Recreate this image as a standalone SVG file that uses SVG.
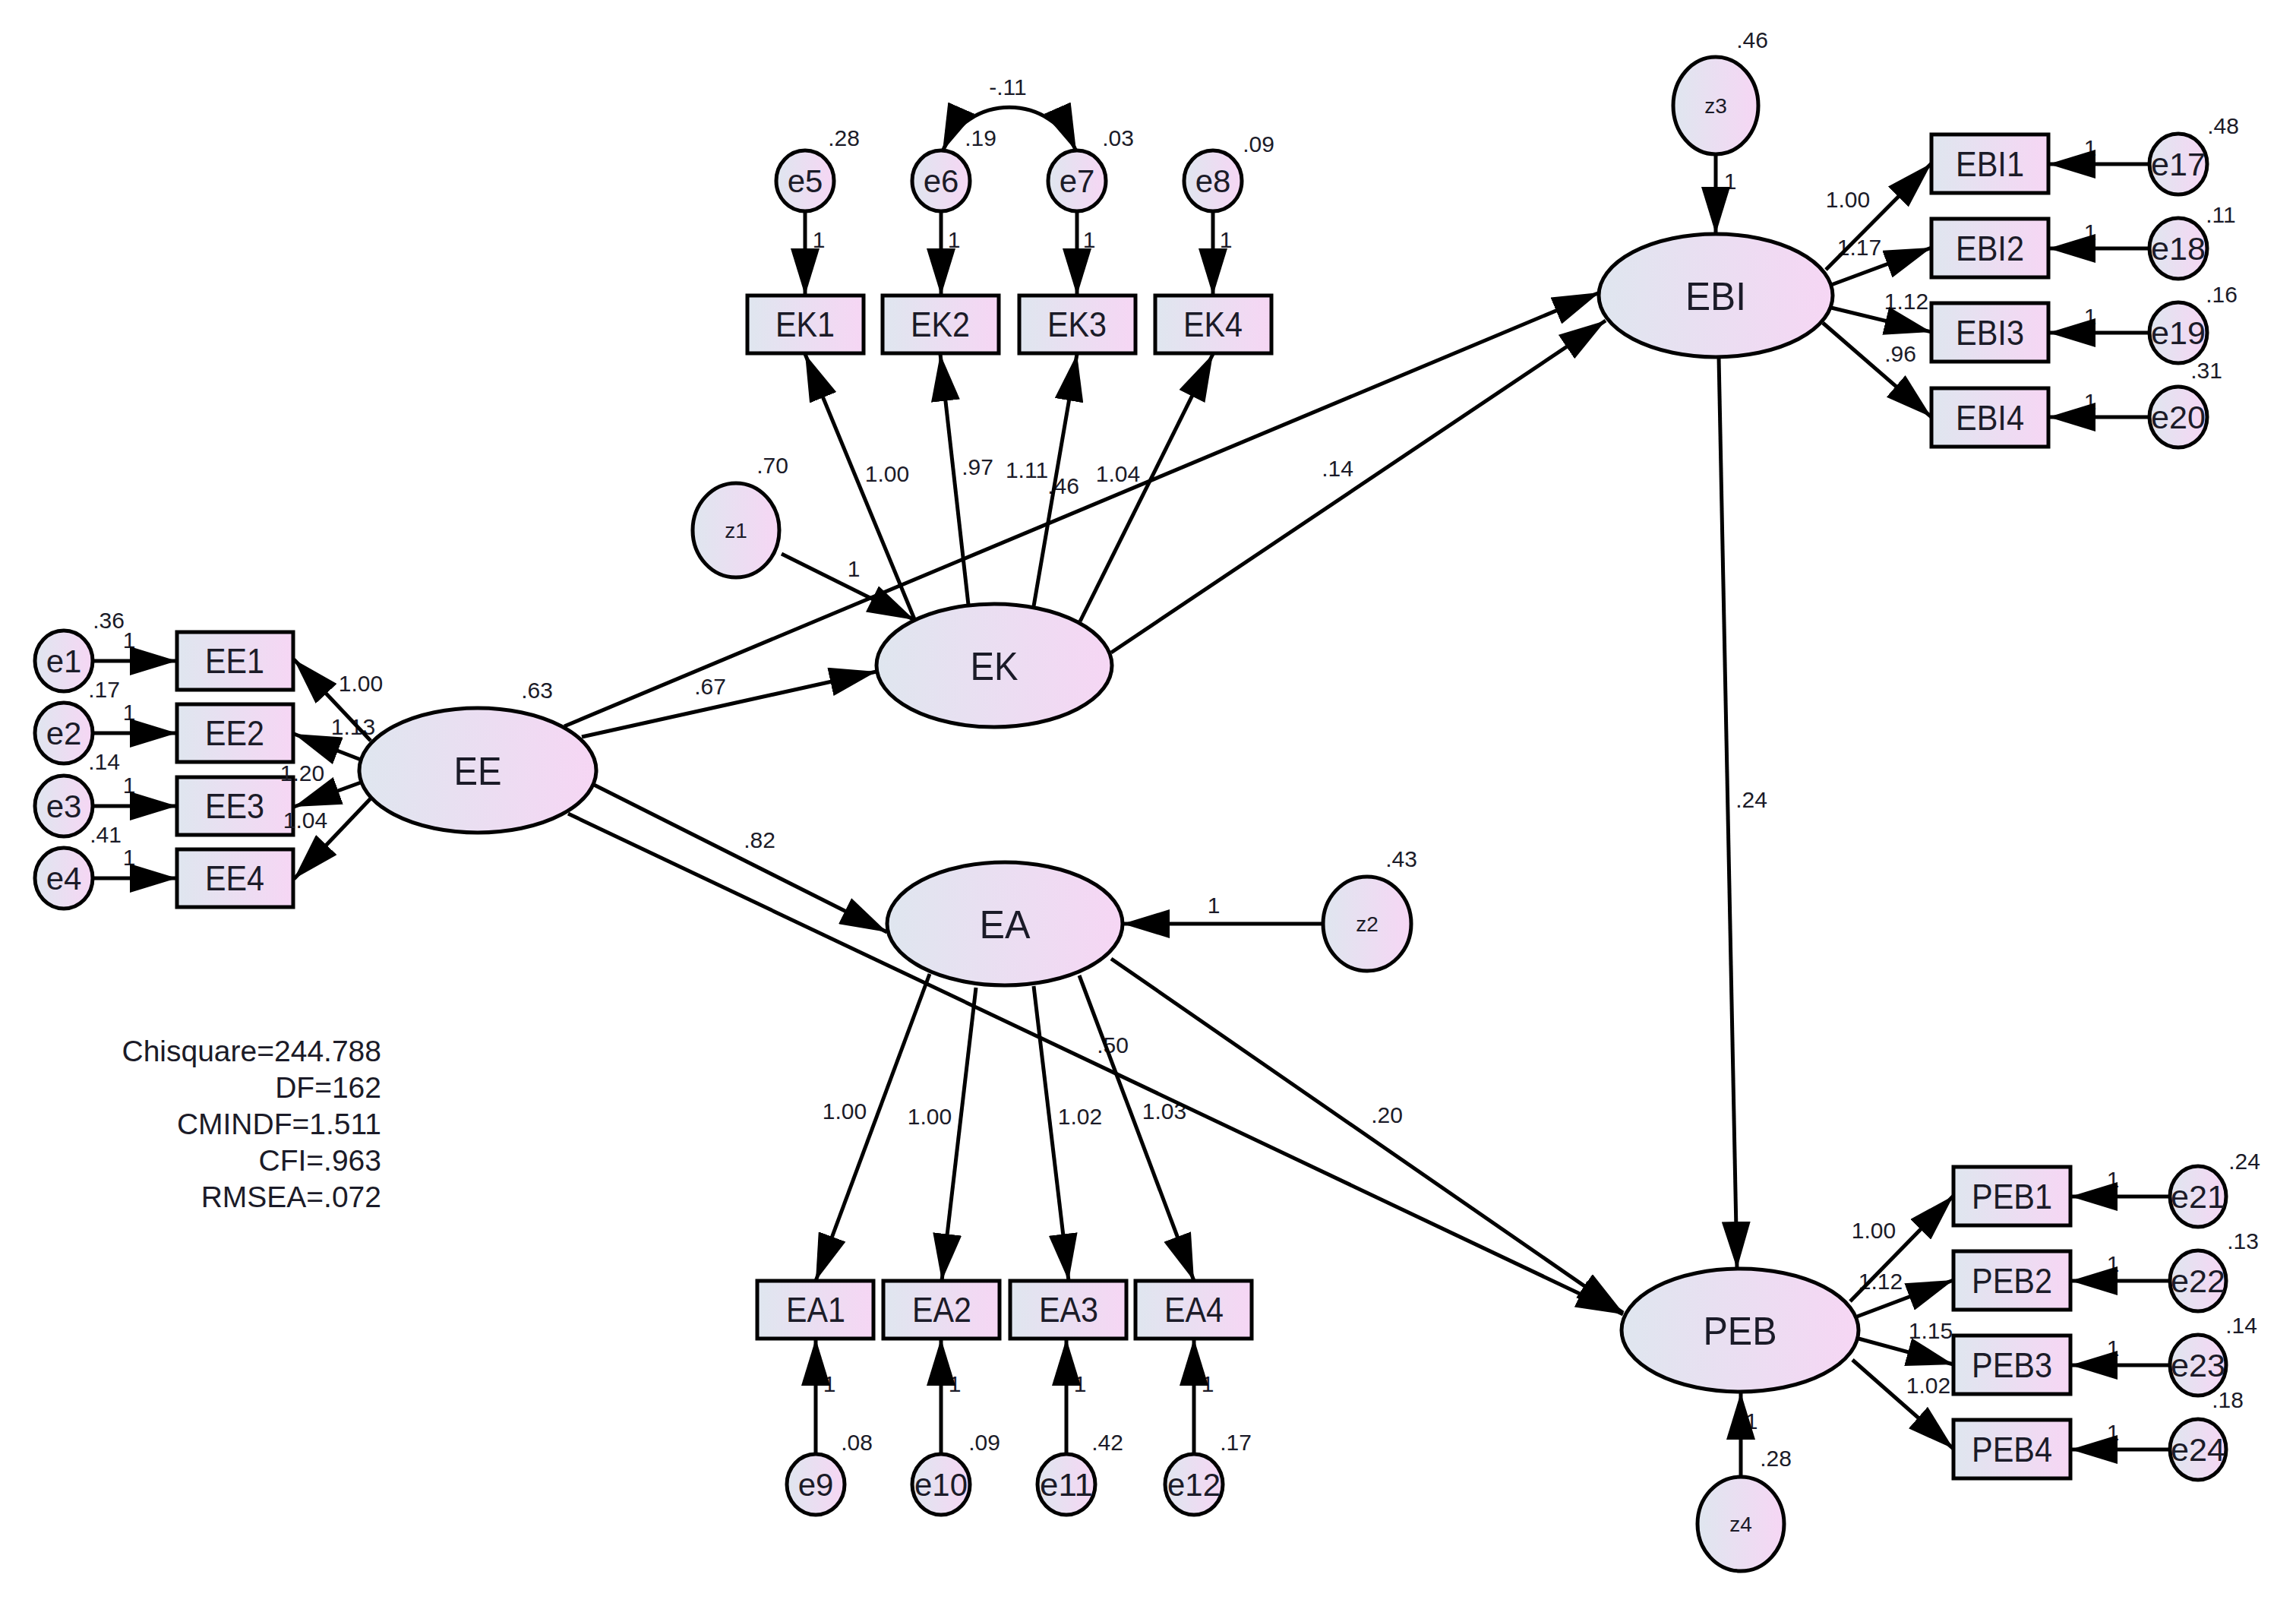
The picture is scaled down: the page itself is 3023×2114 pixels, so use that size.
<svg xmlns="http://www.w3.org/2000/svg" width="3023" height="2114" viewBox="0 0 3023 2114">
<defs>
<linearGradient id="g" x1="0" y1="0" x2="1" y2="0">
<stop offset="0" stop-color="#dfe6ef"/>
<stop offset="1" stop-color="#f6d6f4"/>
</linearGradient>
<marker id="a" markerUnits="userSpaceOnUse" markerWidth="62" markerHeight="38" refX="62" refY="19" orient="auto-start-reverse" viewBox="0 0 62 38">
<path d="M0,0 L62,19 L0,38 z" fill="#000"/>
</marker>
</defs>
<style>
.n{fill:url(#g);stroke:#000;stroke-width:5}
.c line,.c path{stroke:#000;stroke-width:5;fill:none;marker-end:url(#a)}
.c .cov{marker-start:url(#a)}
text{font-family:"Liberation Sans",Arial,sans-serif;fill:#1b1b28;text-anchor:middle}
.big{font-size:52px}
.obs{font-size:46px}
.err{font-size:42px}
.dist{font-size:28px}
.lb{font-size:30px}
.st{font-size:39px;text-anchor:end}
</style>
<rect width="3023" height="2114" fill="#fff"/>

<!-- latent variables -->
<g id="EE"><ellipse class="n" cx="629" cy="1014" rx="156" ry="82"/><text class="big" x="629" y="1033" textLength="63" lengthAdjust="spacingAndGlyphs">EE</text></g>
<g id="EK"><ellipse class="n" cx="1309" cy="876" rx="155" ry="81"/><text class="big" x="1309" y="895" textLength="63" lengthAdjust="spacingAndGlyphs">EK</text></g>
<g id="EA"><ellipse class="n" cx="1323" cy="1216" rx="155" ry="81"/><text class="big" x="1323" y="1235" textLength="67" lengthAdjust="spacingAndGlyphs">EA</text></g>
<g id="EBI"><ellipse class="n" cx="2259" cy="389" rx="154" ry="81"/><text class="big" x="2259" y="408" textLength="80" lengthAdjust="spacingAndGlyphs">EBI</text></g>
<g id="PEB"><ellipse class="n" cx="2291" cy="1751" rx="156" ry="81"/><text class="big" x="2291" y="1770" textLength="97" lengthAdjust="spacingAndGlyphs">PEB</text></g>

<!-- disturbances -->
<g id="z1"><ellipse class="n" cx="969" cy="698" rx="57" ry="62"/><text class="dist" x="969" y="708">z1</text></g>
<g id="z2"><ellipse class="n" cx="1800" cy="1216" rx="58" ry="62"/><text class="dist" x="1800" y="1226">z2</text></g>
<g id="z3"><ellipse class="n" cx="2259" cy="139" rx="56" ry="64"/><text class="dist" x="2259" y="149">z3</text></g>
<g id="z4"><ellipse class="n" cx="2292" cy="2006" rx="57" ry="62"/><text class="dist" x="2292" y="2016">z4</text></g>

<!-- observed: EE -->
<g id="EE1"><rect class="n" x="233" y="832" width="153" height="76"/><text class="obs" x="309" y="886" textLength="78" lengthAdjust="spacingAndGlyphs">EE1</text></g>
<g id="EE2"><rect class="n" x="233" y="927" width="153" height="76"/><text class="obs" x="309" y="981" textLength="78" lengthAdjust="spacingAndGlyphs">EE2</text></g>
<g id="EE3"><rect class="n" x="233" y="1023" width="153" height="76"/><text class="obs" x="309" y="1077" textLength="78" lengthAdjust="spacingAndGlyphs">EE3</text></g>
<g id="EE4"><rect class="n" x="233" y="1118" width="153" height="76"/><text class="obs" x="309" y="1172" textLength="78" lengthAdjust="spacingAndGlyphs">EE4</text></g>
<!-- observed: EK -->
<g id="EK1"><rect class="n" x="984" y="389" width="153" height="76"/><text class="obs" x="1060" y="443" textLength="78" lengthAdjust="spacingAndGlyphs">EK1</text></g>
<g id="EK2"><rect class="n" x="1162" y="389" width="153" height="76"/><text class="obs" x="1238" y="443" textLength="78" lengthAdjust="spacingAndGlyphs">EK2</text></g>
<g id="EK3"><rect class="n" x="1342" y="389" width="153" height="76"/><text class="obs" x="1418" y="443" textLength="78" lengthAdjust="spacingAndGlyphs">EK3</text></g>
<g id="EK4"><rect class="n" x="1521" y="389" width="153" height="76"/><text class="obs" x="1597" y="443" textLength="78" lengthAdjust="spacingAndGlyphs">EK4</text></g>
<!-- observed: EA -->
<g id="EA1"><rect class="n" x="997" y="1686" width="153" height="76"/><text class="obs" x="1074" y="1740" textLength="78" lengthAdjust="spacingAndGlyphs">EA1</text></g>
<g id="EA2"><rect class="n" x="1163" y="1686" width="153" height="76"/><text class="obs" x="1240" y="1740" textLength="78" lengthAdjust="spacingAndGlyphs">EA2</text></g>
<g id="EA3"><rect class="n" x="1330" y="1686" width="153" height="76"/><text class="obs" x="1407" y="1740" textLength="78" lengthAdjust="spacingAndGlyphs">EA3</text></g>
<g id="EA4"><rect class="n" x="1495" y="1686" width="153" height="76"/><text class="obs" x="1572" y="1740" textLength="78" lengthAdjust="spacingAndGlyphs">EA4</text></g>
<!-- observed: EBI -->
<g id="EBI1"><rect class="n" x="2543" y="177" width="154" height="77"/><text class="obs" x="2620" y="232" textLength="90" lengthAdjust="spacingAndGlyphs">EBI1</text></g>
<g id="EBI2"><rect class="n" x="2543" y="288" width="154" height="77"/><text class="obs" x="2620" y="343" textLength="90" lengthAdjust="spacingAndGlyphs">EBI2</text></g>
<g id="EBI3"><rect class="n" x="2543" y="399" width="154" height="77"/><text class="obs" x="2620" y="454" textLength="90" lengthAdjust="spacingAndGlyphs">EBI3</text></g>
<g id="EBI4"><rect class="n" x="2543" y="511" width="154" height="77"/><text class="obs" x="2620" y="566" textLength="90" lengthAdjust="spacingAndGlyphs">EBI4</text></g>
<!-- observed: PEB -->
<g id="PEB1"><rect class="n" x="2572" y="1536" width="154" height="77"/><text class="obs" x="2649" y="1591" textLength="106" lengthAdjust="spacingAndGlyphs">PEB1</text></g>
<g id="PEB2"><rect class="n" x="2572" y="1647" width="154" height="77"/><text class="obs" x="2649" y="1702" textLength="106" lengthAdjust="spacingAndGlyphs">PEB2</text></g>
<g id="PEB3"><rect class="n" x="2572" y="1758" width="154" height="77"/><text class="obs" x="2649" y="1813" textLength="106" lengthAdjust="spacingAndGlyphs">PEB3</text></g>
<g id="PEB4"><rect class="n" x="2572" y="1869" width="154" height="77"/><text class="obs" x="2649" y="1924" textLength="106" lengthAdjust="spacingAndGlyphs">PEB4</text></g>

<!-- error terms -->
<g id="e1"><ellipse class="n" cx="84" cy="870" rx="38" ry="40"/><text class="err" x="84" y="885">e1</text></g>
<g id="e2"><ellipse class="n" cx="84" cy="965" rx="38" ry="40"/><text class="err" x="84" y="980">e2</text></g>
<g id="e3"><ellipse class="n" cx="84" cy="1061" rx="38" ry="40"/><text class="err" x="84" y="1076">e3</text></g>
<g id="e4"><ellipse class="n" cx="84" cy="1156" rx="38" ry="40"/><text class="err" x="84" y="1171">e4</text></g>
<g id="e5"><ellipse class="n" cx="1060" cy="238" rx="38" ry="40"/><text class="err" x="1060" y="253">e5</text></g>
<g id="e6"><ellipse class="n" cx="1239" cy="238" rx="38" ry="40"/><text class="err" x="1239" y="253">e6</text></g>
<g id="e7"><ellipse class="n" cx="1418" cy="238" rx="38" ry="40"/><text class="err" x="1418" y="253">e7</text></g>
<g id="e8"><ellipse class="n" cx="1597" cy="238" rx="38" ry="40"/><text class="err" x="1597" y="253">e8</text></g>
<g id="e9"><ellipse class="n" cx="1074" cy="1954" rx="38" ry="40"/><text class="err" x="1074" y="1969">e9</text></g>
<g id="e10"><ellipse class="n" cx="1239" cy="1954" rx="38" ry="40"/><text class="err" x="1239" y="1969" textLength="70" lengthAdjust="spacingAndGlyphs">e10</text></g>
<g id="e11"><ellipse class="n" cx="1404" cy="1954" rx="38" ry="40"/><text class="err" x="1404" y="1969" textLength="70" lengthAdjust="spacingAndGlyphs">e11</text></g>
<g id="e12"><ellipse class="n" cx="1572" cy="1954" rx="38" ry="40"/><text class="err" x="1572" y="1969" textLength="70" lengthAdjust="spacingAndGlyphs">e12</text></g>
<g id="e17"><ellipse class="n" cx="2868" cy="216" rx="38" ry="40"/><text class="err" x="2868" y="231" textLength="72" lengthAdjust="spacingAndGlyphs">e17</text></g>
<g id="e18"><ellipse class="n" cx="2868" cy="327" rx="38" ry="40"/><text class="err" x="2868" y="342" textLength="72" lengthAdjust="spacingAndGlyphs">e18</text></g>
<g id="e19"><ellipse class="n" cx="2868" cy="438" rx="38" ry="40"/><text class="err" x="2868" y="453" textLength="72" lengthAdjust="spacingAndGlyphs">e19</text></g>
<g id="e20"><ellipse class="n" cx="2868" cy="549" rx="38" ry="40"/><text class="err" x="2868" y="564" textLength="72" lengthAdjust="spacingAndGlyphs">e20</text></g>
<g id="e21"><ellipse class="n" cx="2894" cy="1575" rx="37" ry="40"/><text class="err" x="2894" y="1590" textLength="72" lengthAdjust="spacingAndGlyphs">e21</text></g>
<g id="e22"><ellipse class="n" cx="2894" cy="1686" rx="37" ry="40"/><text class="err" x="2894" y="1701" textLength="72" lengthAdjust="spacingAndGlyphs">e22</text></g>
<g id="e23"><ellipse class="n" cx="2894" cy="1797" rx="37" ry="40"/><text class="err" x="2894" y="1812" textLength="72" lengthAdjust="spacingAndGlyphs">e23</text></g>
<g id="e24"><ellipse class="n" cx="2894" cy="1908" rx="37" ry="40"/><text class="err" x="2894" y="1923" textLength="72" lengthAdjust="spacingAndGlyphs">e24</text></g>

<!-- labels -->
<g id="labels" class="lb">
<text class="lb" x="143" y="827">.36</text><text class="lb" x="170" y="853">1</text>
<text class="lb" x="137" y="918">.17</text><text class="lb" x="170" y="948">1</text>
<text class="lb" x="137" y="1013">.14</text><text class="lb" x="170" y="1044">1</text>
<text class="lb" x="139" y="1109">.41</text><text class="lb" x="170" y="1139">1</text>
<text class="lb" x="475" y="910">1.00</text>
<text class="lb" x="465" y="967">1.13</text>
<text class="lb" x="398" y="1028">1.20</text>
<text class="lb" x="402" y="1090">1.04</text>
<text class="lb" x="707" y="919">.63</text>
<text class="lb" x="935" y="914">.67</text>
<text class="lb" x="1000" y="1116">.82</text>
<text class="lb" x="1017" y="623">.70</text>
<text class="lb" x="1124" y="759">1</text>
<text class="lb" x="1168" y="634">1.00</text>
<text class="lb" x="1287" y="625">.97</text>
<text class="lb" x="1352" y="629">1.11</text>
<text class="lb" x="1400" y="650">.46</text>
<text class="lb" x="1472" y="634">1.04</text>
<text class="lb" x="1761" y="627">.14</text>
<text class="lb" x="1078" y="326">1</text><text class="lb" x="1256" y="326">1</text><text class="lb" x="1434" y="326">1</text><text class="lb" x="1614" y="326">1</text>
<text class="lb" x="1111" y="192">.28</text>
<text class="lb" x="1291" y="192">.19</text>
<text class="lb" x="1472" y="192">.03</text>
<text class="lb" x="1657" y="200">.09</text>
<text class="lb" x="1327" y="125">-.11</text>
<text class="lb" x="2307" y="63">.46</text>
<text class="lb" x="2278" y="249">1</text>
<text class="lb" x="2433" y="273">1.00</text>
<text class="lb" x="2448" y="336">1.17</text>
<text class="lb" x="2510" y="407">1.12</text>
<text class="lb" x="2502" y="476">.96</text>
<text class="lb" x="2752" y="205">1</text><text class="lb" x="2752" y="316">1</text><text class="lb" x="2752" y="427">1</text><text class="lb" x="2752" y="539">1</text>
<text class="lb" x="2927" y="176">.48</text>
<text class="lb" x="2924" y="293">.11</text>
<text class="lb" x="2925" y="398">.16</text>
<text class="lb" x="2905" y="498">.31</text>
<text class="lb" x="2306" y="1063">.24</text>
<text class="lb" x="1845" y="1141">.43</text>
<text class="lb" x="1598" y="1202">1</text>
<text class="lb" x="1112" y="1473">1.00</text>
<text class="lb" x="1224" y="1480">1.00</text>
<text class="lb" x="1422" y="1480">1.02</text>
<text class="lb" x="1533" y="1473">1.03</text>
<text class="lb" x="1465" y="1386">.50</text>
<text class="lb" x="1826" y="1478">.20</text>
<text class="lb" x="1092" y="1832">1</text><text class="lb" x="1257" y="1832">1</text><text class="lb" x="1422" y="1832">1</text><text class="lb" x="1590" y="1832">1</text>
<text class="lb" x="1128" y="1909">.08</text>
<text class="lb" x="1296" y="1909">.09</text>
<text class="lb" x="1458" y="1909">.42</text>
<text class="lb" x="1627" y="1909">.17</text>
<text class="lb" x="2467" y="1630">1.00</text>
<text class="lb" x="2476" y="1697">1.12</text>
<text class="lb" x="2542" y="1762">1.15</text>
<text class="lb" x="2539" y="1834">1.02</text>
<text class="lb" x="2782" y="1563">1</text><text class="lb" x="2782" y="1674">1</text><text class="lb" x="2782" y="1785">1</text><text class="lb" x="2782" y="1896">1</text>
<text class="lb" x="2955" y="1539">.24</text>
<text class="lb" x="2953" y="1644">.13</text>
<text class="lb" x="2951" y="1755">.14</text>
<text class="lb" x="2933" y="1853">.18</text>
<text class="lb" x="2338" y="1930">.28</text>
<text class="lb" x="2306" y="1881">1</text>
</g>

<!-- connectors -->
<g id="connectors" class="c">
<line x1="122" y1="870" x2="233" y2="870"/>
<line x1="122" y1="965" x2="233" y2="965"/>
<line x1="122" y1="1061" x2="233" y2="1061"/>
<line x1="122" y1="1156" x2="233" y2="1156"/>
<line x1="488" y1="975" x2="387" y2="868"/>
<line x1="475" y1="1000" x2="387" y2="966"/>
<line x1="475" y1="1030" x2="387" y2="1062"/>
<line x1="489" y1="1050" x2="387" y2="1157"/>
<line x1="743" y1="956" x2="2106" y2="385"/>
<line x1="766" y1="970" x2="1154" y2="884"/>
<line x1="782" y1="1033" x2="1168" y2="1227"/>
<line x1="748" y1="1071" x2="2137" y2="1730"/>
<line x1="1029" y1="729" x2="1204" y2="816"/>
<line x1="1204" y1="815" x2="1060" y2="466"/>
<line x1="1275" y1="796" x2="1238" y2="466"/>
<line x1="1361" y1="798" x2="1418" y2="466"/>
<line x1="1422" y1="818" x2="1597" y2="466"/>
<line x1="1463" y1="859" x2="2114" y2="422"/>
<line x1="1060" y1="278" x2="1060" y2="389"/>
<line x1="1239" y1="278" x2="1239" y2="389"/>
<line x1="1418" y1="278" x2="1418" y2="389"/>
<line x1="1597" y1="278" x2="1597" y2="389"/>
<path class="cov" d="M1241,199 A96,96 0 0 1 1417,199"/>
<line x1="1743" y1="1216" x2="1478" y2="1216"/>
<line x1="1224" y1="1282" x2="1074" y2="1686"/>
<line x1="1285" y1="1300" x2="1240" y2="1686"/>
<line x1="1361" y1="1298" x2="1407" y2="1686"/>
<line x1="1421" y1="1284" x2="1572" y2="1686"/>
<line x1="1074" y1="1914" x2="1074" y2="1762"/>
<line x1="1239" y1="1914" x2="1239" y2="1762"/>
<line x1="1404" y1="1914" x2="1404" y2="1762"/>
<line x1="1572" y1="1914" x2="1572" y2="1762"/>
<line x1="1463" y1="1262" x2="2137" y2="1728"/>
<line x1="2263" y1="470" x2="2287" y2="1670"/>
<line x1="2259" y1="203" x2="2259" y2="308"/>
<line x1="2404" y1="355" x2="2543" y2="215"/>
<line x1="2411" y1="375" x2="2543" y2="326"/>
<line x1="2411" y1="405" x2="2543" y2="437"/>
<line x1="2400" y1="425" x2="2543" y2="549"/>
<line x1="2830" y1="216" x2="2697" y2="216"/>
<line x1="2830" y1="327" x2="2697" y2="327"/>
<line x1="2830" y1="438" x2="2697" y2="438"/>
<line x1="2830" y1="549" x2="2697" y2="549"/>
<line x1="2436" y1="1713" x2="2572" y2="1574"/>
<line x1="2445" y1="1733" x2="2572" y2="1685"/>
<line x1="2447" y1="1762" x2="2572" y2="1796"/>
<line x1="2439" y1="1790" x2="2572" y2="1907"/>
<line x1="2857" y1="1575" x2="2726" y2="1575"/>
<line x1="2857" y1="1686" x2="2726" y2="1686"/>
<line x1="2857" y1="1797" x2="2726" y2="1797"/>
<line x1="2857" y1="1908" x2="2726" y2="1908"/>
<line x1="2292" y1="1944" x2="2292" y2="1833"/>
</g>

<!-- fit statistics -->
<g id="fit">
<text class="st" x="502" y="1397">Chisquare=244.788</text>
<text class="st" x="502" y="1445">DF=162</text>
<text class="st" x="502" y="1493">CMINDF=1.511</text>
<text class="st" x="502" y="1541">CFI=.963</text>
<text class="st" x="502" y="1589">RMSEA=.072</text>
</g>
</svg>
